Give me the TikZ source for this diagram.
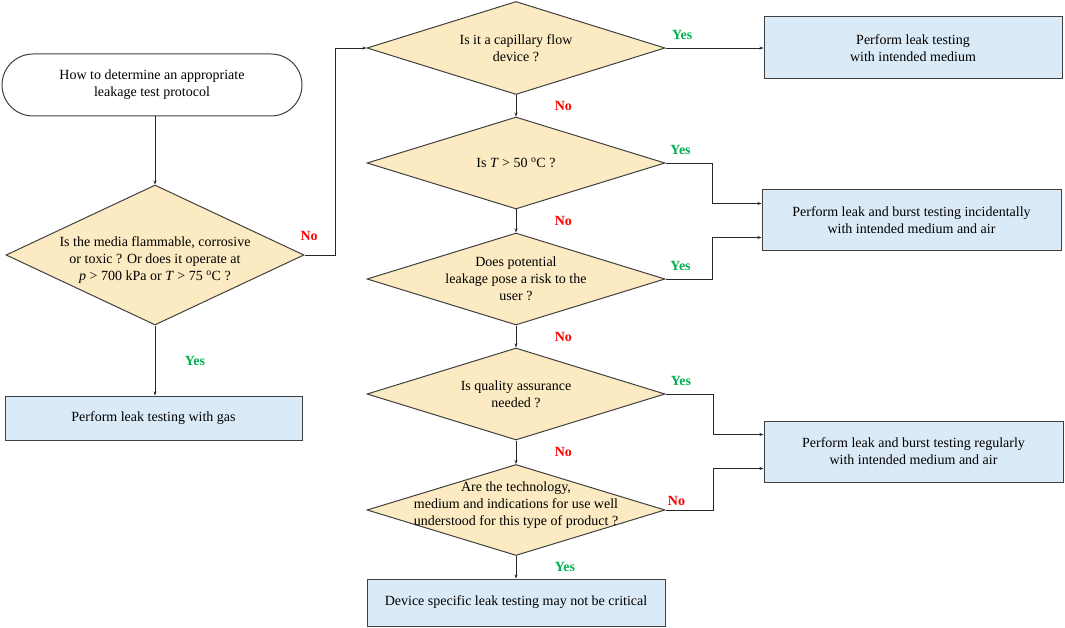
\documentclass[tikz,border=0pt]{standalone}
\usepackage{fontspec}
\setmainfont{Liberation Serif}
\usetikzlibrary{arrows.meta,shapes.geometric}
\definecolor{decfill}{RGB}{252,234,194}
\definecolor{boxfill}{RGB}{219,234,247}
\definecolor{yesgreen}{RGB}{0,176,80}
\tikzset{
	decision/.style={diamond, draw=black!75, fill=decfill, line width=1pt,
			minimum width=298pt, minimum height=92pt, inner sep=0pt},
	qtext/.style={align=center, font=\fontsize{14}{17}\selectfont},
	result/.style={rectangle, draw=black!75, fill=boxfill, line width=1pt,
			align=center, font=\fontsize{14}{17}\selectfont,
			minimum width=298pt, minimum height=61pt},
	flow/.style={draw=black!85, line width=0.9pt, -{Stealth[length=4pt,width=3pt]}},
	yes/.style={text=yesgreen, font=\bfseries\fontsize{14}{17}\selectfont},
	no/.style={text=red, font=\bfseries\fontsize{14}{17}\selectfont}
}

\begin{document}
\begin{tikzpicture}[x=1pt, y=-1pt]
        \useasboundingbox (0,0) rectangle (1065,628);

        \node[draw=black!75, line width=1pt, rounded corners=31pt, minimum width=300pt,
              minimum height=62pt, qtext] (Start) at (152,85)
              {How to determine an appropriate\\leakage test protocol};

        \node[decision, minimum height=140pt,
              label={[qtext, yshift=-5pt]center:{Is the media flammable, corrosive\\or toxic ? Or does it operate at\\\textit{p} > 700 kPa or \textit{T} > 75 \textsuperscript{o}C ?}}]
              (Q1) at (155,255) {};
        \node[result, minimum width=297pt, minimum height=44pt] (Gas) at (153.5,418)
              {Perform leak testing with gas};

        \node[decision, minimum height=93pt,
              label={[qtext]center:{Is it a capillary flow\\device ?}}] (Q2) at (516,48) {};
        \node[decision,
              label={[qtext]center:{Is \textit{T} > 50 \textsuperscript{o}C ?}}] (Q3) at (516,163) {};
        \node[decision,
              label={[qtext]center:{Does potential\\leakage pose a risk to the\\user ?}}] (Q4) at (516,279) {};
        \node[decision,
              label={[qtext]center:{Is quality assurance\\needed ?}}] (Q5) at (516,394) {};
        \node[decision, minimum height=91pt,
              label={[qtext, yshift=5pt]center:{Are the technology,\\medium and indications for use well\\understood for this type of product ?}}]
              (Q6) at (516,510) {};
        \node[result, minimum height=47pt] (D) at (516,602.5)
              {Device specific leak testing may not be critical};

        \node[result, minimum height=62pt] (R1) at (913,48)
              {Perform leak testing\\with intended medium};
        \node[result, minimum width=299pt] (R2) at (911.5,220.5)
              {Perform leak and burst testing incidentally\\with intended medium and air};
        \node[result, minimum width=299pt] (R3) at (913.5,451.5)
              {Perform leak and burst testing regularly\\with intended medium and air};

        \draw[flow] (Q1.north |- Start.south) -- (Q1.north);
        \draw[flow] (Q1.south) -- node[yes, midway, right=26pt] {Yes} (Q1.south |- Gas.north);
        \draw[flow] (Q1.east) -- node[no, pos=0.15, above=11pt] {No} ++(31,0) |- (Q2.west);

        \draw[flow] (Q2.east) -- node[yes, pos=0.17, above=5pt] {Yes} (R1.west);
        \draw[flow] (Q2) -- node[no, midway, right=35pt] {No} (Q3);
        \draw[flow] (Q3.east) -- node[yes, pos=0.32, above=5pt] {Yes} ++(47,0) |- ([yshift=17pt]R2.west);
        \draw[flow] (Q3) -- node[no, midway, right=35pt] {No} (Q4);
        \draw[flow] (Q4.east) -- node[yes, pos=0.32, above=5pt] {Yes} ++(47,0) |- ([yshift=-17pt]R2.west);
        \draw[flow] (Q4) -- node[no, midway, right=35pt] {No} (Q5);
        \draw[flow] (Q5.east) -- node[yes, pos=0.32, above=5pt] {Yes} ++(48,0) |- ([yshift=17pt]R3.west);
        \draw[flow] (Q5) -- node[no, midway, right=35pt] {No} (Q6);
        \draw[flow] (Q6.east) -- node[no, pos=0.23, above=1pt] {No} ++(48,0) |- ([yshift=-17pt]R3.west);
        \draw[flow] (Q6) -- node[yes, midway, right=35pt] {Yes} (D);
    \end{tikzpicture}
\end{document}
